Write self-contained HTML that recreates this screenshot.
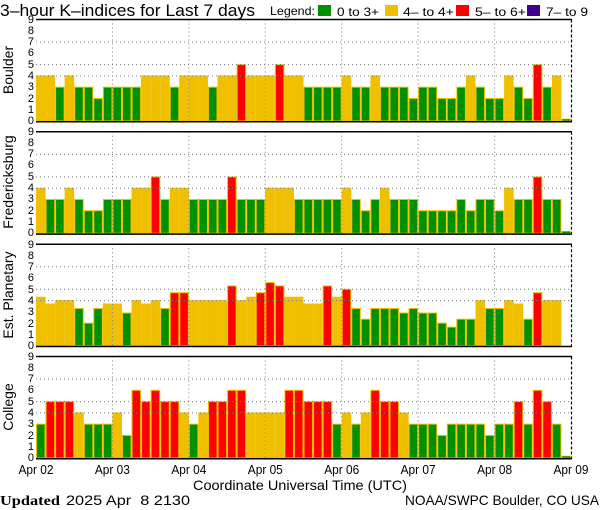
<!DOCTYPE html>
<html><head><meta charset="utf-8"><style>
html,body{margin:0;padding:0;background:#fff;width:600px;height:510px;overflow:hidden}
svg{display:block;font-family:"Liberation Sans",sans-serif}
</style></head><body>
<svg id="s" width="600" height="510" xmlns="http://www.w3.org/2000/svg">
<text x="0" y="16" font-size="17" textLength="255" lengthAdjust="spacingAndGlyphs">3–hour K–indices for Last 7 days</text>
<text x="270" y="15" font-size="12" textLength="45" lengthAdjust="spacingAndGlyphs">Legend:</text>
<rect x="318" y="5" width="13" height="11" fill="#009000"/>
<text x="337" y="16" font-size="12" textLength="42" lengthAdjust="spacingAndGlyphs">0 to 3+</text>
<rect x="385" y="5" width="13" height="11" fill="#f0c000"/>
<text x="403" y="16" font-size="12" textLength="51" lengthAdjust="spacingAndGlyphs">4– to 4+</text>
<rect x="456" y="5" width="13" height="11" fill="#ff0000"/>
<text x="475" y="16" font-size="12" textLength="51" lengthAdjust="spacingAndGlyphs">5– to 6+</text>
<rect x="527" y="5" width="13" height="11" fill="#400090"/>
<text x="546" y="16" font-size="12" textLength="42" lengthAdjust="spacingAndGlyphs">7– to 9</text>
<g id="g"></g>
<g font-size="12.5" text-anchor="middle">
<text x="36" y="474" textLength="35" lengthAdjust="spacingAndGlyphs">Apr 02</text><text x="112.4" y="474" textLength="35" lengthAdjust="spacingAndGlyphs">Apr 03</text><text x="188.9" y="474" textLength="35" lengthAdjust="spacingAndGlyphs">Apr 04</text><text x="265.3" y="474" textLength="35" lengthAdjust="spacingAndGlyphs">Apr 05</text><text x="341.7" y="474" textLength="35" lengthAdjust="spacingAndGlyphs">Apr 06</text><text x="418.1" y="474" textLength="35" lengthAdjust="spacingAndGlyphs">Apr 07</text><text x="494.6" y="474" textLength="35" lengthAdjust="spacingAndGlyphs">Apr 08</text><text x="571" y="474" textLength="35" lengthAdjust="spacingAndGlyphs">Apr 09</text>
</g>
<text x="193" y="490" font-size="14" textLength="214" lengthAdjust="spacingAndGlyphs">Coordinate Universal Time (UTC)</text>
<text x="0" y="505" font-size="14" font-family="Liberation Serif,serif" font-weight="bold" textLength="60" lengthAdjust="spacingAndGlyphs">Updated</text>
<text x="66" y="505" font-size="14" textLength="124" lengthAdjust="spacingAndGlyphs" xml:space="preserve">2025 Apr  8 2130</text>
<text x="405" y="505" font-size="14" textLength="194" lengthAdjust="spacingAndGlyphs">NOAA/SWPC Boulder, CO USA</text>
<g font-size="14" text-anchor="middle">
<text transform="translate(13,70) rotate(-90)">Boulder</text>
<text transform="translate(13,182) rotate(-90)">Fredericksburg</text>
<text transform="translate(13,295) rotate(-90)">Est. Planetary</text>
<text transform="translate(13,407) rotate(-90)">College</text>
</g>
<g font-size="11" text-anchor="end">
<text x="34" y="124">0</text><text x="34" y="113">1</text><text x="34" y="102">2</text><text x="34" y="90">3</text><text x="34" y="79">4</text><text x="34" y="68">5</text><text x="34" y="56">6</text><text x="34" y="45">7</text><text x="34" y="34">8</text><text x="34" y="23">9</text>
<text x="34" y="236">0</text><text x="34" y="225">1</text><text x="34" y="214">2</text><text x="34" y="202">3</text><text x="34" y="191">4</text><text x="34" y="180">5</text><text x="34" y="168">6</text><text x="34" y="157">7</text><text x="34" y="146">8</text><text x="34" y="135">9</text>
<text x="34" y="349">0</text><text x="34" y="338">1</text><text x="34" y="327">2</text><text x="34" y="315">3</text><text x="34" y="304">4</text><text x="34" y="293">5</text><text x="34" y="281">6</text><text x="34" y="270">7</text><text x="34" y="259">8</text><text x="34" y="248">9</text>
<text x="34" y="461">0</text><text x="34" y="450">1</text><text x="34" y="439">2</text><text x="34" y="427">3</text><text x="34" y="416">4</text><text x="34" y="405">5</text><text x="34" y="393">6</text><text x="34" y="382">7</text><text x="34" y="371">8</text><text x="34" y="360">9</text>
</g>
</svg>
<script>
var D=[
[4,4,3,4,3,3,2,3,3,3,3,4,4,4,3,4,4,4,3,4,4,5,4,4,4,5,4,4,3,3,3,3,4,3,3,4,3,3,3,2,3,3,2,2,3,4,3,2,2,4,3,2,5,3,4,0],
[4,3,3,4,3,2,2,3,3,3,4,4,5,3,4,4,3,3,3,3,5,3,3,3,4,4,4,3,3,3,3,3,4,3,2,3,4,3,3,3,2,2,2,2,3,2,3,3,2,4,3,3,5,3,3,0],
[4.3,3.7,4,4,3.3,2,3.3,3.7,3.7,2.9,4,3.7,4,3.3,4.7,4.7,4,4,4,4,5.3,4,4.3,4.7,5.6,5.3,4.3,4.3,3.7,3.7,5.3,4.3,5,3.3,2.35,3.3,3.3,3.3,2.9,3.3,2.9,2.9,2,1.65,2.35,2.35,4,3.3,3.3,4,3.7,2.35,4.7,4,4,-1],
[3,5,5,5,4,3,3,3,4,2,6,5,6,5,5,4,3,4,5,5,6,6,4,4,4,4,6,6,5,5,5,3,4,3,4,6,5,5,4,3,3,3,2,3,3,3,3,2,3,3,5,3,6,5,3,0]];
var T=[19.5,131.8,244.2,356.5],H=101.5,u=H/9,x0=36,w=535/56,s='';
function c(v){return v<3.5?'#009000':v<4.5?'#f0c000':v<6.5?'#ff0000':'#400090'}
for(var p=0;p<4;p++){var t=T[p],z=t+H;
for(var i=0;i<56;i++){var v=D[p][i];if(v<0)continue;var x=x0+i*w;
if(v==0){s+='<rect x="'+(x+0.5)+'" y="'+(z-2)+'" width="'+(w-1)+'" height="2" fill="#009000" stroke="#f0c000" stroke-width="0.6"/>';continue;}
var h=v*u;s+='<rect x="'+(x+0.5)+'" y="'+(z-h)+'" width="'+(w-1)+'" height="'+h+'" fill="'+c(v)+'" stroke="#f0c000" stroke-width="1"/>';}
[4,5,7].forEach(function(k){var y=z-k*u;s+='<line x1="36" x2="571" y1="'+y+'" y2="'+y+'" stroke="#777" stroke-dasharray="1,3"/>';});
for(var d=1;d<7;d++){var x=x0+d*535/7;s+='<line x1="'+x+'" x2="'+x+'" y1="'+t+'" y2="'+z+'" stroke="#777" stroke-dasharray="1,3"/>';}
s+='<line x1="36" x2="572" y1="'+t+'" y2="'+t+'" stroke="#000" stroke-width="1.5"/>';
s+='<line x1="36" x2="572" y1="'+(z+0.8)+'" y2="'+(z+0.8)+'" stroke="#000" stroke-width="1.5"/>';
s+='<line x1="571.5" x2="571.5" y1="'+t+'" y2="'+z+'" stroke="#000" stroke-width="1.2" stroke-dasharray="3,2"/>';}
document.getElementById('g').innerHTML=s;
</script>
</body></html>
